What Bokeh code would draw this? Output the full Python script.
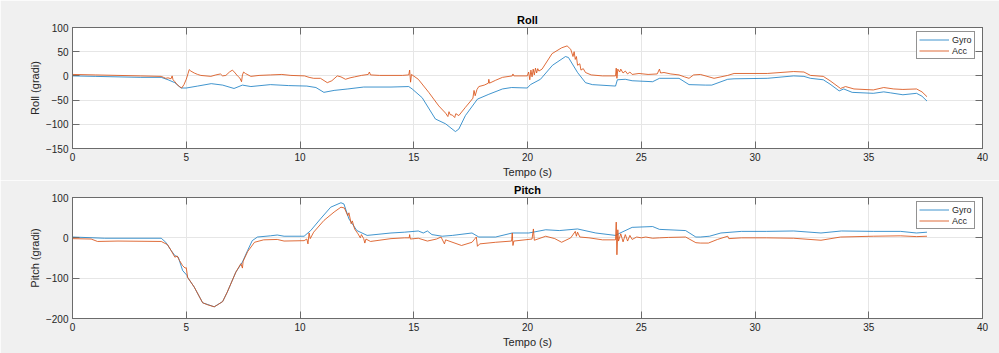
from bokeh.plotting import figure
from bokeh.models import Range1d, FixedTicker, LinearAxis, Legend, LegendItem
from bokeh.layouts import column
from bokeh.embed import file_html
from bokeh.resources import INLINE

# ---------------- data ----------------
x_ticks = [0, 5, 10, 15, 20, 25, 30, 35, 40]
roll_ticks = [-150, -100, -50, 0, 50, 100]
pitch_ticks = [-200, -100, 0, 100]

roll_gyro_t = [0, 1, 2, 3, 3.9, 4.2, 4.5, 4.77, 5.0, 5.5, 6.1, 6.6, 7.1, 7.47, 7.84, 8.7, 9.5,
               10.3, 10.7, 11.05, 11.5, 12.1, 12.8, 14.0, 14.78, 14.93, 15.37, 15.95, 16.4, 16.83,
               16.98, 17.27, 17.8, 18.3, 18.9, 19.3, 19.99, 20.13, 20.57, 21.1, 21.67, 21.8, 22.2,
               22.55, 22.85, 23.87, 23.95, 24.3, 24.6, 25.5, 25.8, 26.66, 27.1, 27.83, 28.1, 28.8,
               29.08, 30.54, 31.7, 32.15, 32.44, 33.0, 33.3, 33.7, 33.9, 34.27, 35.2, 35.66, 35.95,
               36.5, 37.1, 37.34, 37.56]
roll_gyro = [0, -1, -2, -3, -3, -8, -14, -25, -25, -21, -16, -19, -26, -19, -22, -18, -20,
             -21, -24, -34, -30, -27, -23, -23, -22, -27, -45, -89, -99, -115,
             -110, -82, -48, -38, -27, -24, -25, -18, -7, 22, 40, 38, 7,
             -14, -18, -21, -8, -7, -10, -12, -5, -5, -18, -19, -19, -7,
             -6, -5, 0, -1, -5, -8, -17, -31, -27, -34, -36, -33, -35,
             -39, -36, -42, -52]

roll_acc_t = [0, 1, 2, 3, 3.9, 4.0, 4.1, 4.2, 4.33, 4.38, 4.42, 4.5, 4.6, 4.7, 4.8, 4.9, 5.0, 5.08,
              5.13, 5.2, 5.35, 5.5, 5.64, 6.08, 6.3, 6.5, 6.6, 6.74, 6.9, 7.03, 7.15, 7.25, 7.35,
              7.43, 7.47, 7.52, 7.6, 7.84, 8.2, 8.7, 9.2, 9.6, 10.2, 10.4, 10.6, 10.9, 11.2, 11.4,
              11.64, 11.8, 12.0, 12.2, 12.4, 12.7, 13.0, 13.05, 13.1, 13.5, 14.0, 14.5, 14.78,
              14.82, 14.86, 14.9, 15.2, 15.66, 16.1, 16.4, 16.5, 16.55, 16.6, 16.7, 16.8, 16.85,
              16.98, 17.27, 17.5, 17.6, 17.65, 17.7, 17.78, 17.86, 18.1, 18.28, 18.3, 18.33, 18.6,
              18.9, 19.33, 19.36, 19.4, 19.99, 20.05, 20.1, 20.15, 20.2, 20.25, 20.3, 20.35, 20.4,
              20.45, 20.5, 20.64, 21.08, 21.5, 21.74, 21.9, 22.0, 22.05, 22.1, 22.15, 22.2, 22.3,
              22.35, 22.45, 22.55, 22.8, 23.3, 23.87, 23.9, 23.93, 23.97, 24.05, 24.1, 24.2, 24.3,
              24.4, 24.5, 24.6, 24.9, 25.3, 25.7, 25.8, 25.85, 26.0, 26.3, 26.66, 26.9, 27.1, 27.3,
              27.6, 28.2, 28.5, 28.8, 29.08, 30.54, 31.7, 32.15, 32.44, 33.0, 33.3, 33.76, 33.98,
              34.35, 35.2, 35.66, 36.1, 36.5, 37.1, 37.34, 37.56]
roll_acc = [3, 2, 1, 0, -1, -3, -5, -4, -6, 0, -8, -12, -18, -22, -25, -18, -7, 5,
            13, 10, 6, 3, 1, -1, 2, 4, 0, 1, 8, 12, 6, 0, -4,
            -12, 2, 8, 5, -1, 1, 2, 3, 1, 0, -3, -5, -5, -14, -10,
            0, -2, -7, -4, -2, 1, 3, 8, 2, 1, 1, 1, 2,
            12, -13, 3, -7, -34, -62, -77, -84, -74, -80, -81, -86, -78,
            -82, -65, -52, -46, -30, -41, -28, -22, -19, -15, -7, -15, -9,
            -3, 0, 4, 0, 0, 8, -8, 12, -2, 14, 2, 16, 6,
            15, 10, 14, 46, 58, 62, 55, 40, 50, 34, 40, 22, 25,
            12, 15, 7, 2, 0, 0, 16, -5, 14, 8, 14, 6, 10,
            4, 8, 3, 5, 3, 4, 14, 6, 7, 4, 2, -2, -5, 2,
            3, -5, -2, 1, 5, 5, 9, 8, 1, -1, -10, -26, -22,
            -27, -29, -24, -27, -28, -27, -33, -43]

pitch_gyro_t = [0, 1.4, 3.9, 4.1, 4.33, 4.5, 4.65, 4.84, 5.03, 5.06, 5.35, 5.72, 6.23, 6.6, 6.8,
                7.18, 7.47, 7.7, 7.9, 8.13, 8.7, 9.0, 9.3, 10.18, 10.47, 10.9, 11.35, 11.8, 11.93,
                12.15, 12.5, 12.95, 14.0, 14.6, 15.2, 15.42, 15.6, 15.8, 16.25, 16.7, 17.56, 17.86,
                18.6, 19.33, 20.06, 20.8, 21.4, 22.2, 23.0, 23.87, 24.0, 24.6, 25.5, 25.8, 26.95,
                27.4, 27.6, 28.0, 28.5, 29.4, 30.5, 31.7, 32.9, 33.8, 35.2, 36.4, 37.1, 37.56]
pitch_gyro = [2, -1, -1, -11, -31, -44, -48, -81, -93, -98, -122, -161, -171, -158, -135,
              -85, -60, -31, -7, 2, 5, 7, 4, 4, 18, 47, 76, 87, 84,
              47, 18, 6, 12, 14, 17, 12, 17, 8, 4, 6, 12, 2,
              2, 12, 12, 20, 18, 22, 12, 6, 10, 26, 28, 21, 18,
              2, 2, 4, 12, 16, 16, 17, 12, 17, 16, 16, 12, 14]

pitch_acc_t = [0, 0.82, 1.1, 2, 3.9, 4.18, 4.33, 4.5, 4.6, 4.7, 4.84, 4.95, 5.0, 5.06, 5.35, 5.72,
               5.94, 6.23, 6.38, 6.6, 6.8, 7.18, 7.4, 7.47, 7.5, 7.7, 8.0, 8.4, 9.0, 9.3, 10.18,
               10.3, 10.35, 10.4, 10.45, 10.6, 11.05, 11.5, 11.8, 11.95, 12.1, 12.15, 12.25, 12.3,
               12.4, 12.55, 12.65, 12.7, 12.8, 12.85, 12.9, 13.1, 14.0, 14.6, 14.8, 14.82, 14.85,
               15.2, 15.6, 16.0, 16.2, 16.35, 16.4, 17.1, 17.56, 17.75, 17.8, 17.9, 18.6, 19.3,
               19.33, 19.36, 19.4, 20.2, 20.26, 20.3, 20.8, 21.2, 21.5, 21.9, 22.1, 22.15, 22.2,
               22.3, 22.7, 23.3, 23.87, 23.9, 23.93, 23.97, 24.0, 24.1, 24.2, 24.3, 24.4, 24.5,
               24.6, 24.8, 25.0, 25.2, 25.5, 25.8, 26.2, 26.95, 27.4, 27.6, 27.95, 28.35, 28.8,
               28.85, 29.4, 30.5, 31.7, 32.9, 33.76, 35.2, 36.4, 37.1, 37.56]
pitch_acc = [-2, -3, -9, -8, -9, -17, -31, -48, -45, -56, -69, -75, -74, -98, -122, -161,
             -166, -171, -166, -158, -135, -85, -64, -75, -58, -34, -11, -5, -4, -8, -7,
             -3, -15, 12, -2, 14, 43, 64, 76, 74, 55, 62, 35, 42,
             22, 10, 0, 8, -2, -13, -3, -9, -2, 0, 0, 8, -3,
             -1, -8, -3, 2, -15, -5, -19, -11, 2, -21, -15, -11, -8,
             12, -19, -8, -3, 22, -6, 4, -2, -11, 0, 16, 4, 14,
             2, 0, -5, -5, 39, -42, 20, -8, 10, -10, 8, -8, 6,
             -4, 2, 0, 2, -1, 0, 1, 2, -12, -13, -13, -4, 4,
             -2, 0, 0, -1, -6, 2, 4, 5, 3, 4]

GYRO_COLOR = "#0072BD"
ACC_COLOR = "#D95319"
FONT = "Liberation Sans"
AX_COLOR = "#6b6b6b"
TXT_COLOR = "#262626"


def make_fig(title, ylabel, yr, yticks, height, top, bottom, gt, gy, at, ay):
    p = figure(width=999, height=height, output_backend="svg", toolbar_location=None,
               x_range=Range1d(0, 40), y_range=Range1d(*yr),
               min_border_left=72, min_border_right=17, min_border_top=top,
               min_border_bottom=bottom, border_fill_color="#f0f0f0",
               background_fill_color="white", outline_line_color=AX_COLOR,
               outline_line_width=1)
    p.title.text = title
    p.title.align = "center"
    p.title.text_font = FONT
    p.title.text_font_size = "11px"
    p.title.text_font_style = "bold"
    p.title.text_color = "#000000"
    p.title.standoff = 3

    r1 = p.line(gt, gy, line_color=GYRO_COLOR, line_width=1, line_alpha=0.75)
    r2 = p.line(at, ay, line_color=ACC_COLOR, line_width=1, line_alpha=0.85)

    for ax in (p.xaxis[0], p.yaxis[0]):
        ax.major_tick_in = 7
        ax.major_tick_out = 0
        ax.minor_tick_line_color = None
        ax.axis_line_color = AX_COLOR
        ax.major_tick_line_color = AX_COLOR
        ax.major_label_text_font = FONT
        ax.major_label_text_font_size = "10px"
        ax.major_label_text_color = TXT_COLOR
        ax.axis_label_text_font = FONT
        ax.axis_label_text_font_size = "11px"
        ax.axis_label_text_font_style = "normal"
        ax.axis_label_text_color = TXT_COLOR
        ax.major_label_standoff = 4
        ax.axis_label_standoff = 2
    p.xaxis[0].ticker = FixedTicker(ticks=x_ticks)
    p.yaxis[0].ticker = FixedTicker(ticks=yticks)
    p.xaxis[0].axis_label = "Tempo (s)"
    p.yaxis[0].axis_label = ylabel

    for loc, tk in (("above", x_ticks), ("right", yticks)):
        ax = LinearAxis(ticker=FixedTicker(ticks=tk), major_tick_in=7, major_tick_out=0,
                        minor_tick_line_color=None, axis_line_color=AX_COLOR,
                        major_tick_line_color=AX_COLOR, major_label_text_font_size="0px",
                        major_label_standoff=0, major_label_text_alpha=0)
        p.add_layout(ax, loc)

    p.xgrid.grid_line_color = "#e6e6e6"
    p.ygrid.grid_line_color = "#e6e6e6"
    p.xgrid.ticker = FixedTicker(ticks=x_ticks)
    p.ygrid.ticker = FixedTicker(ticks=yticks)

    legend = Legend(items=[LegendItem(label="Gyro", renderers=[r1]),
                           LegendItem(label="Acc", renderers=[r2])],
                    location=(844, 89), glyph_width=30, glyph_height=11, label_height=11,
                    label_standoff=3, padding=2, spacing=0, margin=0,
                    label_text_font=FONT, label_text_font_size="9px",
                    label_text_color=TXT_COLOR, border_line_color=TXT_COLOR,
                    border_line_width=1, background_fill_color="white",
                    background_fill_alpha=1)
    p.add_layout(legend)
    return p


p1 = make_fig("Roll", "Roll (gradi)", (-150, 100), roll_ticks, 180, 27, 32,
              roll_gyro_t, roll_gyro, roll_acc_t, roll_acc)
p2 = make_fig("Pitch", "Pitch (gradi)", (-200, 100), pitch_ticks, 173, 17, 35,
              pitch_gyro_t, pitch_gyro, pitch_acc_t, pitch_acc)

p = column(p1, p2, spacing=0)
open("out.html", "w").write(file_html(p, INLINE))
